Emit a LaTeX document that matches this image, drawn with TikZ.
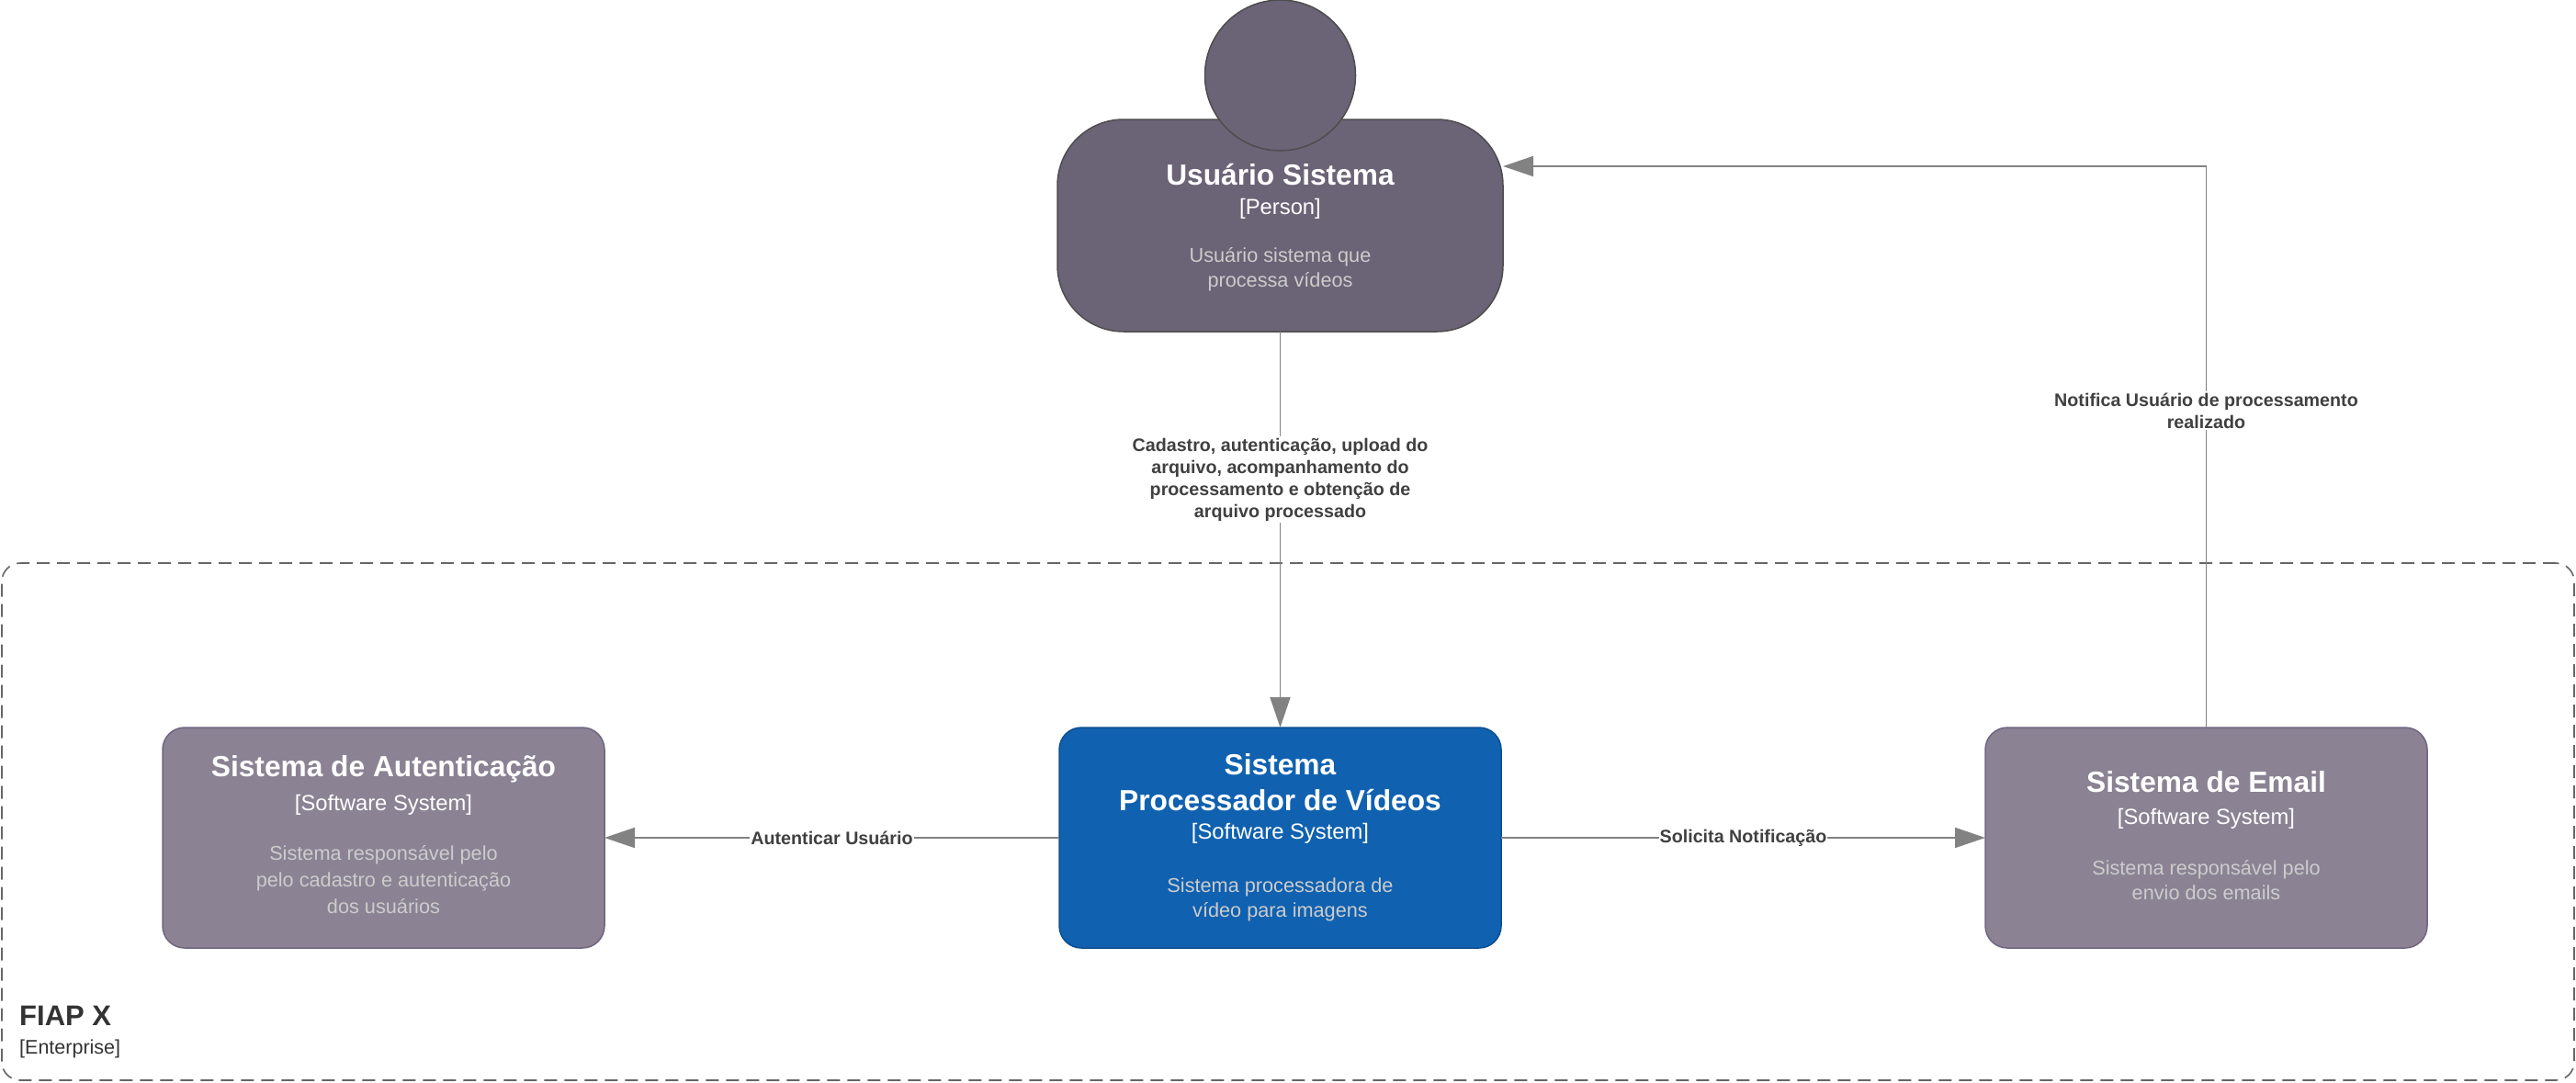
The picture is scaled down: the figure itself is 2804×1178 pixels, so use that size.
\documentclass[tikz,border=0pt]{standalone}
\usepackage{fontspec}
\setmainfont{Liberation Sans}
\usetikzlibrary{arrows.meta}
\definecolor{personfill}{HTML}{6B6376}
\definecolor{personline}{HTML}{4D4D4D}
\definecolor{extfill}{HTML}{8B8294}
\definecolor{extline}{HTML}{6F6680}
\definecolor{sysfill}{HTML}{1061B0}
\definecolor{sysline}{HTML}{0D4F8F}
\definecolor{desctext}{HTML}{CCCCCC}
\definecolor{reltext}{HTML}{404040}
\definecolor{relline}{HTML}{828282}
\definecolor{boundline}{HTML}{666666}
\newcommand\fsz[1]{\fontsize{#1}{#1}\selectfont}
\begin{document}
\begin{tikzpicture}[x=1pt,y=-1pt,
  sysbox/.style={draw, line width=1.5pt, rounded corners=24pt, minimum width=481pt, minimum height=240pt, inner sep=0pt, outer sep=0pt},
  extbox/.style={sysbox, fill=extfill, draw=extline},
  mainbox/.style={sysbox, fill=sysfill, draw=sysline},
  titletxt/.style={anchor=base, text=white, font=\bfseries\fsz{31.7}, inner sep=0pt},
  typetxt/.style={anchor=base, text=white, font=\fsz{23.8}, inner sep=0pt},
  desctxt/.style={anchor=base, text=desctext, font=\fsz{21.7}, inner sep=0pt},
  rel/.style={draw=relline, line width=1.6pt, -{Triangle[length=33pt,width=22pt]}},
  rellbl/.style={fill=white, text=reltext, font=\bfseries\fontsize{19.7}{24}\selectfont, align=center, inner sep=2pt}]
\useasboundingbox (0,0) rectangle (2804,1178);

% enterprise boundary
\node[draw=boundline, line width=1.6pt, dash pattern=on 14pt off 8pt, rounded corners=20pt,
  minimum width=2800pt, minimum height=563pt, inner sep=0pt, outer sep=0pt] (ent) at (1402,894.5) {};
\node[anchor=base west, inner sep=0pt, text=black!80, font=\bfseries\fsz{31}] (entT) at (21,1116) {FIAP X};
\node[anchor=base west, inner sep=0pt, text=black!80, font=\fsz{21.5}] (entS) at (21,1147) {[Enterprise]};

% person
\node[draw=personline, fill=personfill, line width=1.5pt, rounded corners=72pt, minimum width=485pt, minimum height=231pt, inner sep=0pt, outer sep=0pt] (person) at (1393.5,245.5) {};
\node[draw=personline, fill=personfill, line width=1.5pt, circle, minimum size=164pt, inner sep=0pt, outer sep=0pt] (head) at (1393.5,82) {};
\node[titletxt] (pT) at (1393.5,201) {Usuário Sistema};
\node[typetxt] (pS) at (1393.5,233) {[Person]};
\node[desctxt] (pD1) at (1393.5,285) {Usuário sistema que};
\node[desctxt] (pD2) at (1393.5,312) {processa vídeos};

% systems
\node[extbox] (auth) at (417.5,912) {};
\node[mainbox] (proc) at (1393.5,912) {};
\node[extbox] (email) at (2401.5,912) {};

\node[titletxt] (aT) at (417.5,845) {Sistema de Autenticação};
\node[typetxt] (aS) at (417.5,882) {[Software System]};
\node[desctxt] (aD1) at (417.5,936) {Sistema responsável pelo};
\node[desctxt] (aD2) at (417.5,965) {pelo cadastro e autenticação};
\node[desctxt] (aD3) at (417.5,994) {dos usuários};

\node[titletxt] (sT1) at (1393.5,843) {Sistema};
\node[titletxt] (sT2) at (1393.5,882) {Processador de Vídeos};
\node[typetxt] (sS) at (1393.5,913) {[Software System]};
\node[desctxt] (sD1) at (1393.5,971) {Sistema processadora de};
\node[desctxt] (sD2) at (1393.5,998) {vídeo para imagens};

\node[titletxt] (eT) at (2401.5,862) {Sistema de Email};
\node[typetxt] (eS) at (2401.5,897) {[Software System]};
\node[desctxt] (eD1) at (2401.5,952) {Sistema responsável pelo};
\node[desctxt] (eD2) at (2401.5,979) {envio dos emails};

% relations
\draw[rel] (person.south) -- node[rellbl, pos=0.3735] (l1) {Cadastro, autenticação, upload do\\arquivo, acompanhamento do\\processamento e obtenção de\\arquivo processado} (proc.north);
\draw[rel] (email.north) |- node[rellbl, pos=0.2823] (l2) {Notifica Usuário de processamento\\realizado} ([yshift=-51pt]person.north east);
\draw[rel] (proc.west) -- node[rellbl, midway, inner sep=1pt] (l3) {Autenticar Usuário} (auth.east);
\draw[rel] (proc.east) -- node[rellbl, midway, inner sep=1pt] (l4) {Solicita Notificação} (email.west);
\end{tikzpicture}
\end{document}
